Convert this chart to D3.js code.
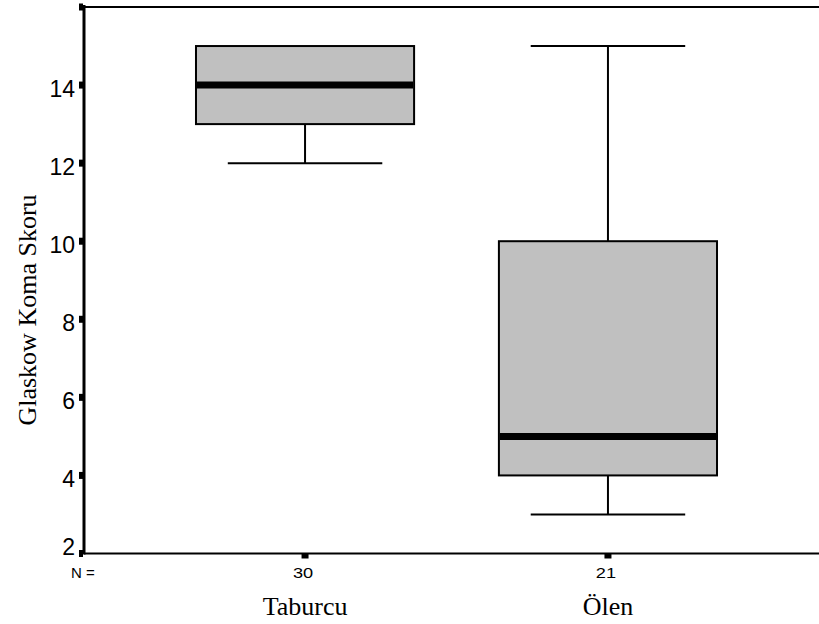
<!DOCTYPE html>
<html>
<head>
<meta charset="utf-8">
<script src="https://cdn.jsdelivr.net/npm/d3@7"></script>
<style>
  html, body { margin: 0; padding: 0; background: #fff; }
  .tickText { font-family: "Liberation Sans", Arial, sans-serif; font-size: 23px; fill: #000; }
  .nText { font-family: "Liberation Sans", Arial, sans-serif; font-size: 14px; fill: #000; }
  .catText { font-family: "Liberation Serif", "Times New Roman", serif; font-size: 26px; fill: #000; }
</style>
</head>
<body>
<div id="chart"></div>
<script>
/* data */
var groups = ["Taburcu", "Ölen"]
var nCounts = [30, 21]
var whiskerLow = [12, 3]
var q1 = [13, 4]
var median = [14, 5]
var q3 = [15, 10]
var whiskerHigh = [15, 15]
var yTicks = [2, 4, 6, 8, 10, 12, 14, 16]
var yTickLabels = ["2", "4", "6", "8", "10", "12", "14", ""]
var yTitle = "Glaskow Koma Skoru"

var width = 819, height = 624
var plot = { left: 84, top: 7, bottom: 553.5, right: 819 }

var svg = d3.select("#chart").append("svg")
    .attr("width", width)
    .attr("height", height)

var y = d3.scaleLinear().domain([2, 16]).range([plot.bottom, plot.top])
var x = d3.scalePoint().domain(groups).range([83, 830]).padding(0.733)
var step = x.step()
var boxW = step * 0.72
var capW = step * 0.51

/* boxes */
var boxes = svg.append("g").selectAll("g")
    .data(groups)
    .join("g")

boxes.each(function(g, i) {
  var sel = d3.select(this)
  var cx = x(g)
  // lower whisker
  if (whiskerLow[i] < q1[i]) {
    sel.append("line")
      .attr("x1", cx).attr("x2", cx)
      .attr("y1", y(q1[i])).attr("y2", y(whiskerLow[i]))
      .style("stroke", "#000").style("stroke-width", 2)
    sel.append("line")
      .attr("x1", cx - capW / 2).attr("x2", cx + capW / 2)
      .attr("y1", y(whiskerLow[i])).attr("y2", y(whiskerLow[i]))
      .style("stroke", "#000").style("stroke-width", 2)
  }
  // upper whisker
  if (whiskerHigh[i] > q3[i]) {
    sel.append("line")
      .attr("x1", cx).attr("x2", cx)
      .attr("y1", y(q3[i])).attr("y2", y(whiskerHigh[i]))
      .style("stroke", "#000").style("stroke-width", 2)
    sel.append("line")
      .attr("x1", cx - capW / 2).attr("x2", cx + capW / 2)
      .attr("y1", y(whiskerHigh[i])).attr("y2", y(whiskerHigh[i]))
      .style("stroke", "#000").style("stroke-width", 2)
  }
  sel.append("rect")
    .attr("x", cx - boxW / 2)
    .attr("y", y(q3[i]))
    .attr("width", boxW)
    .attr("height", y(q1[i]) - y(q3[i]))
    .style("fill", "#c0c0c0")
    .style("stroke", "#000")
    .style("stroke-width", 2)
  sel.append("line")
    .attr("x1", cx - boxW / 2 + 1).attr("x2", cx + boxW / 2 - 1)
    .attr("y1", y(median[i])).attr("y2", y(median[i]))
    .style("stroke", "#000").style("stroke-width", 7)
})

/* frame: top line, left and bottom axes */
svg.append("line")
  .attr("x1", plot.left).attr("x2", plot.right)
  .attr("y1", plot.top).attr("y2", plot.top)
  .style("stroke", "#000").style("stroke-width", 2)
svg.append("line")
  .attr("x1", plot.left).attr("x2", plot.left)
  .attr("y1", plot.top - 2).attr("y2", plot.bottom + 1)
  .style("stroke", "#000").style("stroke-width", 3)
svg.append("line")
  .attr("x1", plot.left).attr("x2", plot.right)
  .attr("y1", plot.bottom).attr("y2", plot.bottom)
  .style("stroke", "#000").style("stroke-width", 2)

/* y ticks: little squares and labels */
var yTickG = svg.append("g")
yTicks.forEach(function(t, i) {
  yTickG.append("rect")
    .attr("x", plot.left - 5)
    .attr("y", y(t) - 3.5)
    .attr("width", 4)
    .attr("height", 7)
    .style("fill", "#000")
  var ty = i == 0 ? y(t) + 1.5 : y(t) + 12
  yTickG.append("text")
    .attr("class", "tickText")
    .attr("x", 75)
    .attr("y", ty)
    .attr("text-anchor", "end")
    .text(yTickLabels[i])
})

/* x ticks, N counts and category names */
groups.forEach(function(g, i) {
  svg.append("rect")
    .attr("x", x(g) - 3.5)
    .attr("y", plot.bottom)
    .attr("width", 7)
    .attr("height", 5)
    .style("fill", "#000")
  // counts in the reference are drawn a bit wider than normal
  svg.append("text")
    .attr("class", "nText")
    .attr("transform", "translate(" + (x(g) - 2) + ",578) scale(1.3,1)")
    .attr("text-anchor", "middle")
    .text(nCounts[i])
  svg.append("text")
    .attr("class", "catText")
    .attr("x", x(g))
    .attr("y", 615)
    .attr("text-anchor", "middle")
    .text(g)
})
svg.append("text")
  .attr("class", "nText")
  .attr("x", 71)
  .attr("y", 578)
  .style("font-size", "15px")
  .text("N =")

/* y title */
svg.append("text")
  .attr("class", "catText")
  .attr("transform", "translate(36,310) rotate(-90)")
  .attr("text-anchor", "middle")
  .text(yTitle)
</script>
</body>
</html>
